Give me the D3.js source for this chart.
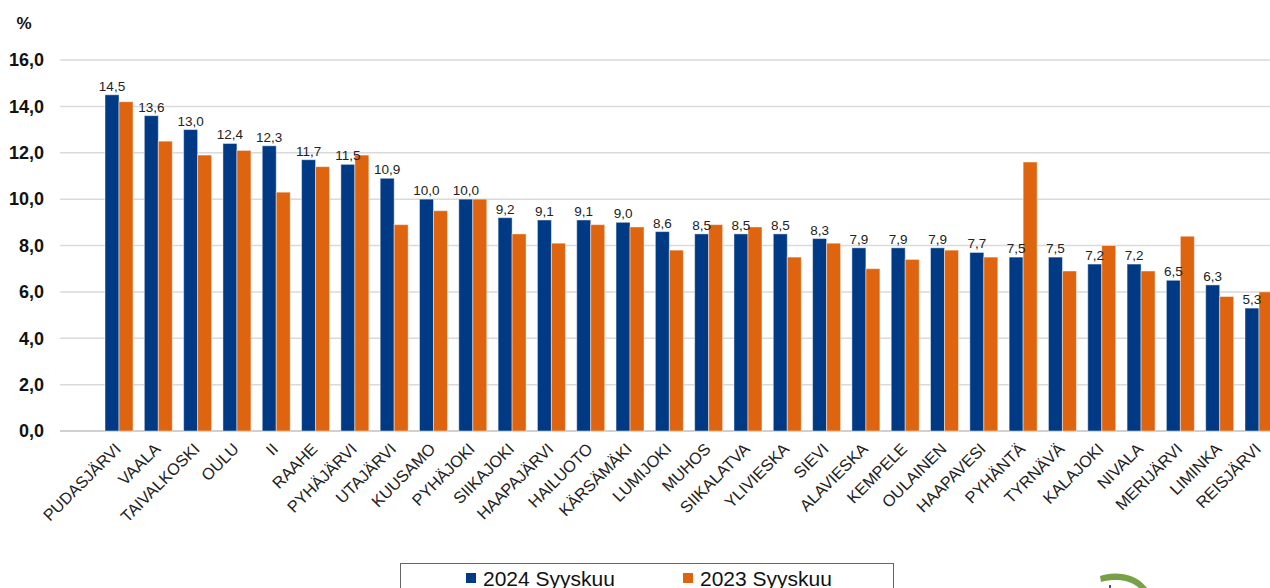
<!DOCTYPE html>
<html><head><meta charset="utf-8">
<script src="https://cdn.jsdelivr.net/npm/d3@7/dist/d3.min.js"></script>
<style>
html,body{margin:0;padding:0;background:#fff;overflow:hidden;}
svg{display:block;font-family:"Liberation Sans",Arial,sans-serif;}
</style></head><body>
<svg id="chart" width="1270" height="588"></svg>
<script>
const categories = ["PUDASJÄRVI","VAALA","TAIVALKOSKI","OULU","II","RAAHE","PYHÄJÄRVI","UTAJÄRVI","KUUSAMO","PYHÄJOKI","SIIKAJOKI","HAAPAJÄRVI","HAILUOTO","KÄRSÄMÄKI","LUMIJOKI","MUHOS","SIIKALATVA","YLIVIESKA","SIEVI","ALAVIESKA","KEMPELE","OULAINEN","HAAPAVESI","PYHÄNTÄ","TYRNÄVÄ","KALAJOKI","NIVALA","MERIJÄRVI","LIMINKA","REISJÄRVI"];
const values2024 = [14.5,13.6,13.0,12.4,12.3,11.7,11.5,10.9,10.0,10.0,9.2,9.1,9.1,9.0,8.6,8.5,8.5,8.5,8.3,7.9,7.9,7.9,7.7,7.5,7.5,7.2,7.2,6.5,6.3,5.3];
const values2023 = [14.2,12.5,11.9,12.1,10.3,11.4,11.9,8.9,9.5,10.0,8.5,8.1,8.9,8.8,7.8,8.9,8.8,7.5,8.1,7.0,7.4,7.8,7.5,11.6,6.9,8.0,6.9,8.4,5.8,6.0];
const seriesNames = ["2024 Syyskuu","2023 Syyskuu"];
const yTicks = [0,2,4,6,8,10,12,14,16];
const colors = ["#003a85","#de6410"];

const svg = d3.select("#chart");
const fmt = v => d3.format(".1f")(v).replace(".", ",");

const y = d3.scaleLinear().domain([0,16]).range([431,60]);
const x0 = d3.scaleBand().domain(categories).range([99.35,1278.65]).paddingInner(0.288).paddingOuter(0.144);
const x1 = d3.scaleBand().domain(seriesNames).range([0,x0.bandwidth()]);

// gridlines
const grid = svg.append("g");
grid.selectAll("line").data(yTicks).join("line")
  .attr("x1",60).attr("x2",1270)
  .attr("y1",d=>y(d)).attr("y2",d=>y(d))
  .attr("stroke",d=>d===0?"#d0d0d0":"#dadada").attr("stroke-width",d=>d===0?2:1.5);

// y axis labels
const yAxis = d3.axisLeft(y).tickValues(yTicks).tickFormat(fmt).tickSize(0).tickPadding(0);
const ya = svg.append("g").attr("transform","translate(44,0)").call(yAxis);
ya.select(".domain").remove();
ya.selectAll("text").attr("font-size",18).attr("font-weight","bold").attr("fill","#111")
  .attr("font-family","'Liberation Sans',Arial,sans-serif");

svg.append("text").attr("x",24).attr("y",29).attr("text-anchor","middle")
  .attr("font-size",17).attr("font-weight","bold").attr("fill","#111").text("%");

// bars
const rows = categories.map((c,i)=>({c, v:[values2024[i], values2023[i]]}));
const g = svg.append("g");
const grp = g.selectAll("g").data(rows).join("g").attr("transform",d=>`translate(${x0(d.c)},0)`);
grp.selectAll("rect").data(d=>d.v.map((v,k)=>({k,v}))).join("rect")
  .attr("x",d=>x1(seriesNames[d.k])).attr("width",x1.bandwidth())
  .attr("y",d=>y(d.v)).attr("height",d=>y(0)-y(d.v))
  .attr("fill",d=>colors[d.k])
  .attr("stroke","#ffffff").attr("stroke-opacity",0.45).attr("stroke-width",1);

// value labels for 2024
svg.append("g").selectAll("text").data(rows).join("text")
  .attr("x",d=>x0(d.c)+x1(seriesNames[0])+x1.bandwidth()/2)
  .attr("y",d=>y(d.v[0])-4)
  .attr("text-anchor","middle").attr("font-size",13.5).attr("fill","#222")
  .text(d=>fmt(d.v[0]));

// category labels
svg.append("g").selectAll("text").data(categories).join("text")
  .attr("transform",d=>`translate(${x0(d)+x0.bandwidth()/2+3},450) rotate(-45)`)
  .attr("text-anchor","end").attr("font-size",16.3).attr("fill","#222")
  .text(d=>d);

// legend
const lg = svg.append("g");
lg.append("rect").attr("x",400.5).attr("y",563.5).attr("width",493).attr("height",40)
  .attr("fill","#fff").attr("stroke","#666").attr("stroke-width",1);
const legX = [466,683];
seriesNames.forEach((n,i)=>{
  lg.append("rect").attr("x",legX[i]).attr("y",573).attr("width",10).attr("height",10).attr("fill",colors[i]);
  lg.append("text").attr("x",legX[i]+17).attr("y",586).attr("font-size",21).attr("fill","#111").text(n);
});

// logo fragment
svg.append("path")
  .attr("d","M1100,576 C1114,571 1136,573 1147,588 L1139,588 C1130,580 1116,578 1101,582 Z")
  .attr("fill","#78a046");
svg.append("rect").attr("x",1109).attr("y",585).attr("width",2).attr("height",3).attr("fill","#2a5caa");
</script>
</body></html>
